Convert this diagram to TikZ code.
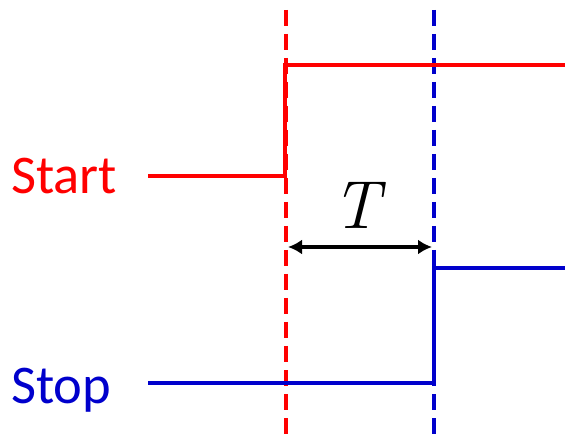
\documentclass[tikz,border=0pt]{standalone}
\usepackage{fontspec}
\setmainfont{Carlito}
\newfontfamily\lmr{Latin Modern Roman}
\usetikzlibrary{arrows.meta}
\definecolor{sred}{HTML}{FF0000}
\definecolor{sblue}{HTML}{0000CC}
\begin{document}
\begin{tikzpicture}[x=1pt,y=-1pt,
  sig/.style={line width=4pt},
  guide/.style={line width=4pt,dash pattern=on 16pt off 8pt},
  lbl/.style={font=\fontsize{54.5}{60}\selectfont,anchor=base west,inner sep=0pt}]
\useasboundingbox (0,0) rectangle (565,438);
% dashed guides
\coordinate (rtop) at (286,10);
\coordinate (rbot) at (286,438);
\coordinate (btop) at (434,10);
\coordinate (bbot) at (434,438);
\draw[guide,sred] (rtop) -- (rbot);
\draw[guide,sblue] (btop) -- (bbot);
% start signal
\coordinate (s0) at (148,176);
\coordinate (s1) at (285,176);
\coordinate (s2) at (285,65);
\coordinate (s3) at (565,65);
\draw[sig,sred] (s0) -- (s1) -- (s2) -- (s3);
% stop signal
\coordinate (p0) at (148,383);
\coordinate (p1) at (434,383);
\coordinate (p2) at (434,268);
\coordinate (p3) at (565,268);
\draw[sig,sblue] (p0) -- (p1) -- (p2) -- (p3);
% labels
\node[lbl,text=sred] (start) at (11,194) {Start};
\node[lbl,text=sblue] (stop) at (11,403) {Stop};
% T arrow
\coordinate (al) at (288,247);
\coordinate (ar) at (432,247);
\draw[line width=3.5pt,{Latex[length=14pt,width=15pt]}-{Latex[length=14pt,width=15pt]}] (al) -- (ar);
\node[anchor=base,inner sep=0pt,font=\lmr\itshape\fontsize{68}{72}\selectfont] (T) at (356,229) {T};
\end{tikzpicture}
\end{document}
